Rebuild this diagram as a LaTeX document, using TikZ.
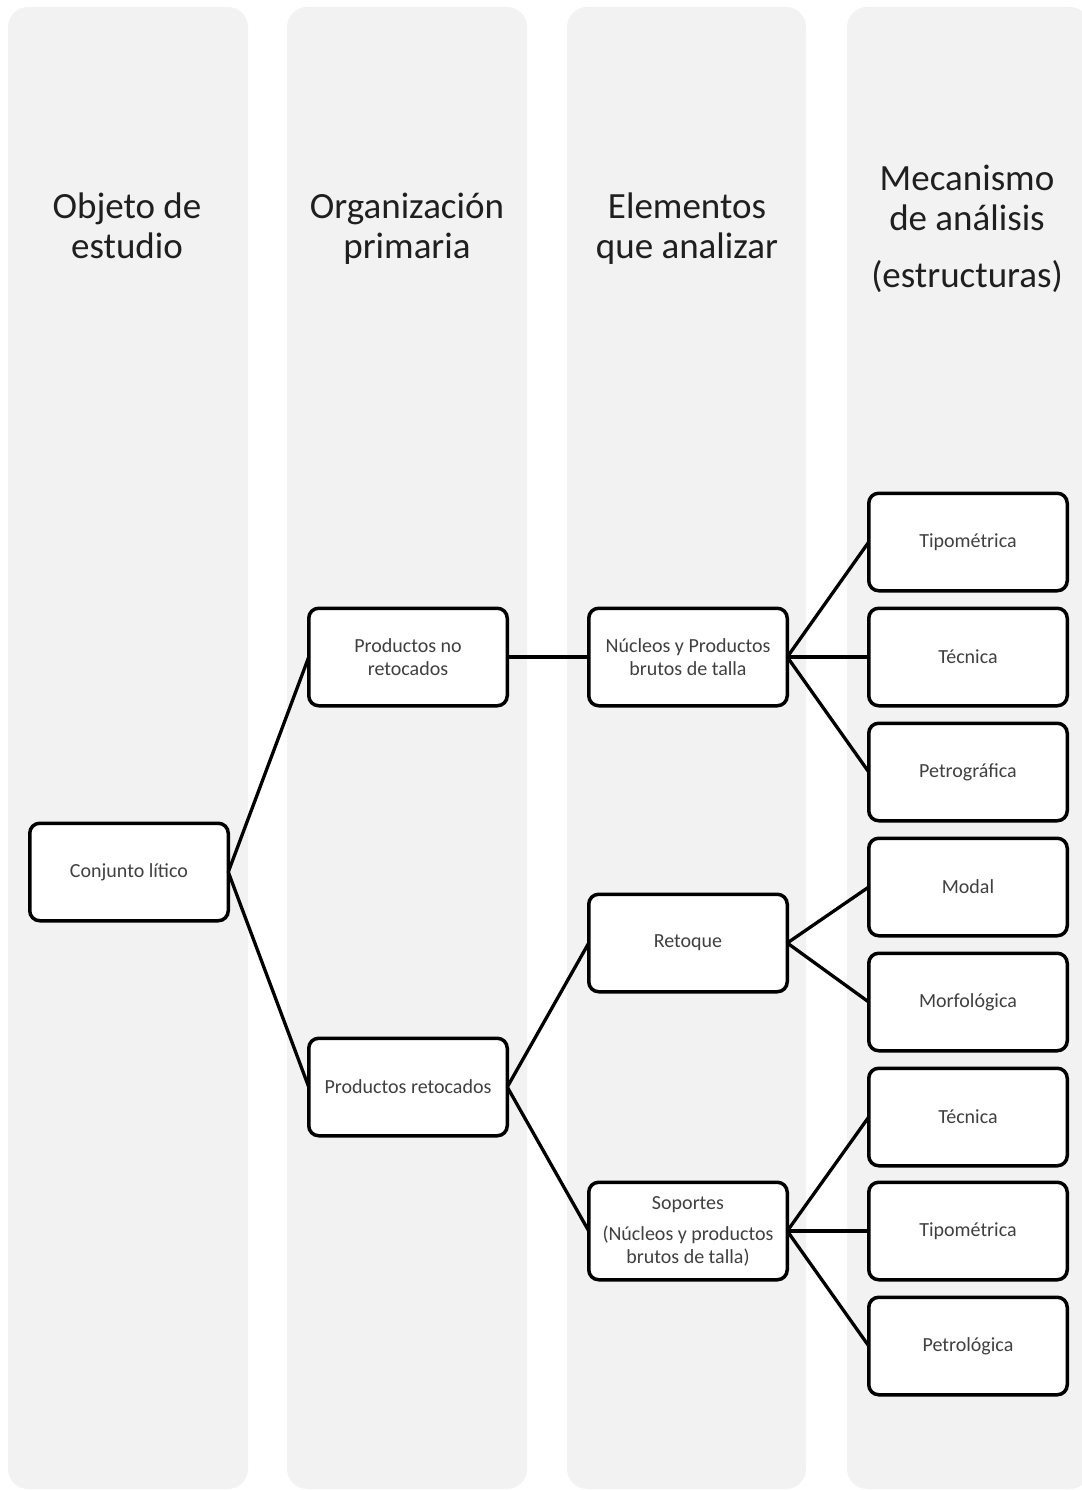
\documentclass[tikz,border=0pt]{standalone}
\usepackage{fontspec}
\setmainfont{Carlito}
\usetikzlibrary{positioning}
\definecolor{lanegray}{HTML}{F2F2F2}
\definecolor{boxtext}{HTML}{404040}
\definecolor{headtext}{HTML}{1F1F1F}

\begin{document}
\begin{tikzpicture}[
  x=1pt, y=-1pt,
  lane/.style={fill=lanegray, rounded corners=20pt},
  head/.style={align=center, text=headtext, font=\fontsize{37}{40}\selectfont},
  b/.style={draw=black, line width=3.5pt, rounded corners=10pt, fill=white, align=center, text=boxtext, font=\fontsize{20}{23}\selectfont, minimum width=198.5pt, minimum height=97.5pt, inner sep=2pt, outer sep=0pt},
  link/.style={line width=3.3pt, black}
]
\useasboundingbox (0,0) rectangle (1081,1490);
% lanes
\fill[lane] (8,7) rectangle (248,1489);
\fill[lane] (287,7) rectangle (527,1489);
\fill[lane] (567,7) rectangle (806,1489);
\fill[lane] (847,7) rectangle (1090,1489);
% headings
\node[head] (h1) at (127,226) {Objeto de\\estudio};
\node[head] (h2) at (407,228.5) {Organización\\primaria};
\node[head] (h3) at (687,228.5) {Elementos\\que analizar};
\node[head] (h4) at (967,229) {Mecanismo\\de análisis\\[17pt](estructuras)};
% boxes
\node[b] (cl) at (129,872) {Conjunto lítico};
\node[b] (pnr) at (408,657) {Productos no\\retocados};
\node[b] (pr) at (408,1087) {Productos retocados};
\node[b, right=81.5pt of pnr] (nbt) {Núcleos y Productos\\brutos de talla};
\node[b] (ret) at (688,943) {Retoque};
\node[b] (sop) at (688,1231) {Soportes\\[8pt](Núcleos y productos\\brutos de talla)};
\node[b, right=81.5pt of nbt] (tec1) {Técnica};
\node[b, above=17.5pt of tec1] (tip1) {Tipométrica};
\node[b, below=17.5pt of tec1] (pet) {Petrográfica};
\node[b, below=17.5pt of pet] (mod) {Modal};
\node[b, below=17.5pt of mod] (mor) {Morfológica};
\node[b, below=17.5pt of mor] (tec2) {Técnica};
\node[b, right=81.5pt of sop] (tip2) {Tipométrica};
\node[b, below=17.5pt of tip2] (ptl) {Petrológica};
% links
\draw[link] (cl.east) -- (pnr.west);
\draw[link] (cl.east) -- (pr.west);
\draw[link] (pnr.east) -- (nbt.west);
\draw[link] (pr.east) -- (ret.west);
\draw[link] (pr.east) -- (sop.west);
\draw[link] (nbt.east) -- (tip1.west);
\draw[link] (nbt.east) -- (tec1.west);
\draw[link] (nbt.east) -- (pet.west);
\draw[link] (ret.east) -- (mod.west);
\draw[link] (ret.east) -- (mor.west);
\draw[link] (sop.east) -- (tec2.west);
\draw[link] (sop.east) -- (tip2.west);
\draw[link] (sop.east) -- (ptl.west);
\end{tikzpicture}
\end{document}
